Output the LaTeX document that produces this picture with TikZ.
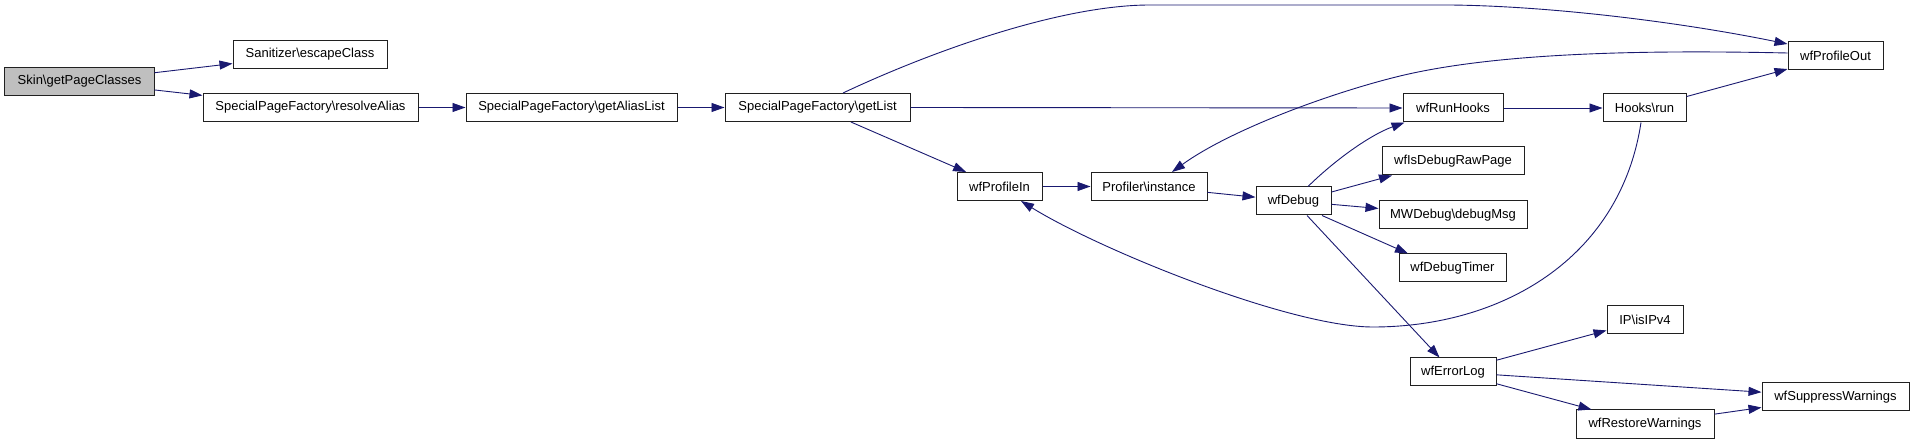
\documentclass[tikz,border=0pt]{standalone}
\usepackage{fontspec}
\setmainfont{Liberation Sans}
\usetikzlibrary{arrows.meta,calc}
\definecolor{edgecol}{HTML}{191970}
\definecolor{skingray}{HTML}{BFBFBF}
\definecolor{boxline}{HTML}{202020}
\begin{document}
\begin{tikzpicture}[x=1bp,y=-1bp,
  box/.style={draw=boxline, line width=1bp, fill=white, minimum height=28bp, inner sep=0pt,
    font=\fontsize{13bp}{15bp}\selectfont},
  edge/.style={draw=edgecol, line width=0.9bp, -{Triangle[length=13bp,width=9bp,fill=edgecol]}}]
\fill[white] (0,0) rectangle (1915,444);
\useasboundingbox (0,0) rectangle (1915,444);

\node[box, fill=skingray, minimum width=149bp] (skin) at (79.5,81.5) {Skin\textbackslash getPageClasses};
\node[box, minimum width=154bp] (san) at (310,54.5) {Sanitizer\textbackslash escapeClass};
\node[box, minimum width=215bp] (resolve) at (310.5,107.5) {SpecialPageFactory\textbackslash resolveAlias};
\node[box, minimum width=211bp] (alias) at (571.5,107.5) {SpecialPageFactory\textbackslash getAliasList};
\node[box, minimum width=185bp] (getlist) at (817.5,107.5) {SpecialPageFactory\textbackslash getList};
\node[box, minimum width=85bp] (pin) at (999.5,186.5) {wfProfileIn};
\node[box, minimum width=116bp] (prof) at (1149,186.5) {Profiler\textbackslash instance};
\node[box, minimum width=75bp] (debug) at (1293.5,201) {wfDebug};
\node[box, minimum width=142bp] (raw) at (1453,161) {wfIsDebugRawPage};
\node[box, minimum width=148bp] (mwd) at (1453,215) {MWDebug\textbackslash debugMsg};
\node[box, minimum width=107bp] (timer) at (1452.5,268) {wfDebugTimer};
\node[box, minimum width=86bp] (errlog) at (1453,372) {wfErrorLog};
\node[box, minimum width=100bp] (runhooks) at (1453,108) {wfRunHooks};
\node[box, minimum width=83bp] (hooks) at (1644.5,108) {Hooks\textbackslash run};
\node[box, minimum width=95bp] (pout) at (1835.5,56) {wfProfileOut};
\node[box, minimum width=76bp] (ip) at (1645,320) {IP\textbackslash isIPv4};
\node[box, minimum width=138bp] (restore) at (1645,424) {wfRestoreWarnings};
\node[box, minimum width=147bp] (supp) at (1835.5,397) {wfSuppressWarnings};

% straight edges
\draw[edge] (skin) -- (san);
\draw[edge] (skin) -- (resolve);
\draw[edge] (resolve) -- (alias);
\draw[edge] (alias) -- (getlist);
\draw[edge] (getlist.east) -- (runhooks.west);
\draw[edge] (getlist) -- (pin);
\draw[edge] (pin) -- (prof);
\draw[edge] (prof) -- (debug);
\draw[edge] ($(debug.east)+(0,-9)$) -- ($(raw.south)+(-61,0)$);
\draw[edge] (debug) -- (mwd);
\draw[edge] ($(debug.south)+(28.5,0)$) -- ($(timer.north)+(-44.5,0)$);
\draw[edge] (debug) -- (errlog);
\draw[edge] (runhooks) -- (hooks);
\draw[edge] (hooks) -- (pout);
\draw[edge] (errlog) -- (ip);
\draw[edge] (errlog) -- (supp);
\draw[edge] (errlog) -- (restore);
\draw[edge] (restore) -- (supp);

% curved edges
\draw[edge] ($(getlist.north)+(25.5,0)$) .. controls (930,52) and (1060,5) .. (1150,5)
  -- (1450,5) .. controls (1550,6) and (1680,22) .. ($(pout.west)+(0,-12)$);
\draw[edge] ($(pout.west)+(0,-3)$) .. controls (1650,50) and (1500,52) .. (1400,76)
  .. controls (1330,93) and (1230,130) .. ($(prof.north)+(23,0)$);
\draw[edge] ($(debug.north)+(14.5,0)$) .. controls (1335,160) and (1370,135) .. ($(runhooks.south west)+(2,0)$);
\draw[edge] ($(hooks.south)+(-3.5,0)$) .. controls (1620,260) and (1500,327) .. (1373,327)
  .. controls (1290,327) and (1100,250) .. ($(pin.south)+(21.5,0)$);
\end{tikzpicture}
\end{document}
